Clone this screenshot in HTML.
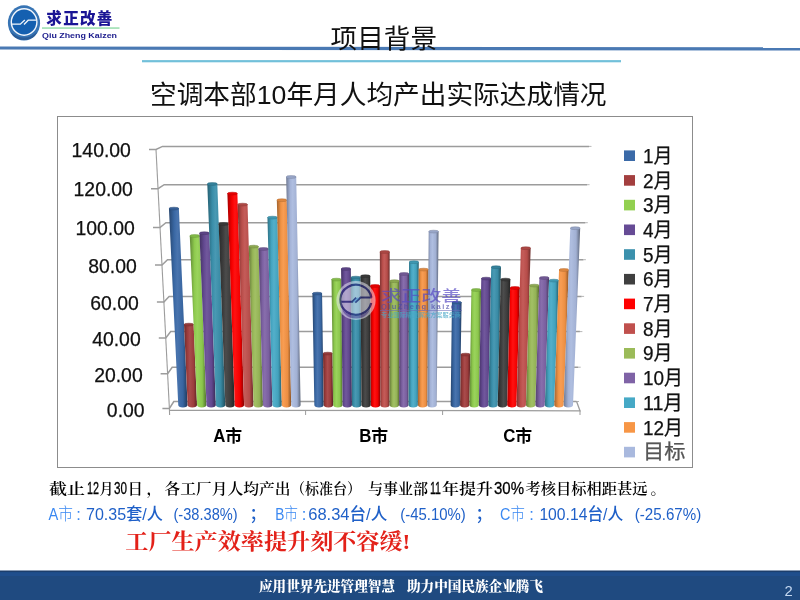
<!DOCTYPE html>
<html lang="zh-CN"><head><meta charset="utf-8"><title>项目背景</title>
<style>
html,body{margin:0;padding:0;background:#fff;}
body{width:800px;height:600px;position:relative;overflow:hidden;}
</style></head><body>
<svg width="800" height="600" viewBox="0 0 800 600" style="position:absolute;left:0;top:0">
<defs>
<linearGradient id="g0" x1="0" x2="1" y1="0" y2="0"><stop offset="0" stop-color="#27466f"/><stop offset="0.28" stop-color="#3967a3"/><stop offset="0.45" stop-color="#4974ae"/><stop offset="0.75" stop-color="#3865a0"/><stop offset="1" stop-color="#203a5c"/></linearGradient>
<linearGradient id="g1" x1="0" x2="1" y1="0" y2="0"><stop offset="0" stop-color="#6c2a2a"/><stop offset="0.28" stop-color="#9e3d3d"/><stop offset="0.45" stop-color="#a94c4c"/><stop offset="0.75" stop-color="#9b3c3c"/><stop offset="1" stop-color="#5a2323"/></linearGradient>
<linearGradient id="g2" x1="0" x2="1" y1="0" y2="0"><stop offset="0" stop-color="#608935"/><stop offset="0.28" stop-color="#8eca4e"/><stop offset="0.45" stop-color="#9ad35c"/><stop offset="0.75" stop-color="#8bc64c"/><stop offset="1" stop-color="#50722c"/></linearGradient>
<linearGradient id="g3" x1="0" x2="1" y1="0" y2="0"><stop offset="0" stop-color="#433262"/><stop offset="0.28" stop-color="#634991"/><stop offset="0.45" stop-color="#71589c"/><stop offset="0.75" stop-color="#61478e"/><stop offset="1" stop-color="#382952"/></linearGradient>
<linearGradient id="g4" x1="0" x2="1" y1="0" y2="0"><stop offset="0" stop-color="#276072"/><stop offset="0.28" stop-color="#398da8"/><stop offset="0.45" stop-color="#4999b3"/><stop offset="0.75" stop-color="#388aa4"/><stop offset="1" stop-color="#20505f"/></linearGradient>
<linearGradient id="g5" x1="0" x2="1" y1="0" y2="0"><stop offset="0" stop-color="#2a2a2a"/><stop offset="0.28" stop-color="#3d3d3d"/><stop offset="0.45" stop-color="#4c4c4c"/><stop offset="0.75" stop-color="#3c3c3c"/><stop offset="1" stop-color="#232323"/></linearGradient>
<linearGradient id="g6" x1="0" x2="1" y1="0" y2="0"><stop offset="0" stop-color="#a80000"/><stop offset="0.28" stop-color="#f70000"/><stop offset="0.45" stop-color="#ff1212"/><stop offset="0.75" stop-color="#f20000"/><stop offset="1" stop-color="#8c0000"/></linearGradient>
<linearGradient id="g7" x1="0" x2="1" y1="0" y2="0"><stop offset="0" stop-color="#7f3533"/><stop offset="0.28" stop-color="#ba4e4b"/><stop offset="0.45" stop-color="#c45c59"/><stop offset="0.75" stop-color="#b64c49"/><stop offset="1" stop-color="#6a2c2a"/></linearGradient>
<linearGradient id="g8" x1="0" x2="1" y1="0" y2="0"><stop offset="0" stop-color="#667b3b"/><stop offset="0.28" stop-color="#96b556"/><stop offset="0.45" stop-color="#a2c065"/><stop offset="0.75" stop-color="#93b255"/><stop offset="1" stop-color="#556731"/></linearGradient>
<linearGradient id="g9" x1="0" x2="1" y1="0" y2="0"><stop offset="0" stop-color="#54416e"/><stop offset="0.28" stop-color="#7b60a1"/><stop offset="0.45" stop-color="#886eac"/><stop offset="0.75" stop-color="#795e9e"/><stop offset="1" stop-color="#46365b"/></linearGradient>
<linearGradient id="g10" x1="0" x2="1" y1="0" y2="0"><stop offset="0" stop-color="#2e7083"/><stop offset="0.28" stop-color="#44a4c0"/><stop offset="0.45" stop-color="#53afca"/><stop offset="0.75" stop-color="#42a1bc"/><stop offset="1" stop-color="#265d6d"/></linearGradient>
<linearGradient id="g11" x1="0" x2="1" y1="0" y2="0"><stop offset="0" stop-color="#a3632e"/><stop offset="0.28" stop-color="#f09244"/><stop offset="0.45" stop-color="#f89d53"/><stop offset="0.75" stop-color="#eb8e42"/><stop offset="1" stop-color="#885226"/></linearGradient>
<linearGradient id="g12" x1="0" x2="1" y1="0" y2="0"><stop offset="0" stop-color="#707a93"/><stop offset="0.28" stop-color="#a4b3d7"/><stop offset="0.45" stop-color="#afbee0"/><stop offset="0.75" stop-color="#a1b0d3"/><stop offset="1" stop-color="#5d667a"/></linearGradient>
</defs>
<path d="M0 46.4 L800 47.3 L800 50.6 L0 49.6 Z" fill="#4a79b3"/>
<rect x="142" y="60.1" width="479" height="2.2" fill="#72c0da"/>
<g id="logo">
<ellipse cx="24" cy="22.9" rx="16.1" ry="17.6" fill="#3774b4"/>
<path d="M10.8 32 Q24 43 37.2 32 Q35.5 36.5 31 38.6 Q24 41.6 17 38.6 Q12.5 36.5 10.8 32Z" fill="#2a5c98"/>
<ellipse cx="24.1" cy="22" rx="12.8" ry="13.2" fill="#1560b0" stroke="#f2f6fc" stroke-width="1.4"/>
<path d="M11.5 24.2 H20.3 L24.8 20" fill="none" stroke="#f2f6fc" stroke-width="1.3"/>
<path d="M24 24.5 L28.2 20.2 H36.5" fill="none" stroke="#f2f6fc" stroke-width="1.3"/>
</g>
<text x="46.3" y="24.4" font-family="Liberation Sans,Noto Sans CJK SC,sans-serif" font-weight="900" font-size="15.5" fill="#1b1595" textLength="66" lengthAdjust="spacing">求正改善</text>
<rect x="42" y="27.4" width="77.5" height="1.3" fill="#86d8a0"/>
<text x="42" y="37.6" font-family="Liberation Sans,sans-serif" font-weight="bold" font-size="8" fill="#1b1b8c" textLength="75" lengthAdjust="spacingAndGlyphs">Qiu Zheng Kaizen</text>
<text x="330.6" y="48.2" font-family="Liberation Sans,Noto Sans CJK SC,sans-serif" font-size="26" fill="#111" textLength="106.5" lengthAdjust="spacingAndGlyphs">项目背景</text>
<text x="150" y="104.4" font-family="Liberation Sans,Noto Sans CJK SC,sans-serif" font-size="26.5" fill="#111" textLength="456.5" lengthAdjust="spacingAndGlyphs">空调本部10年月人均产出实际达成情况</text>
<rect x="57.5" y="116.5" width="635" height="351" fill="#fff" stroke="#8c8c8c" stroke-width="1"/>
<path d="M162.4 408.5 L169.4 408.5 L173.8 401.5 L576.5 401.5" fill="none" stroke="#9c9c9c" stroke-width="1.5"/>
<path d="M576.5 401.5 h2.5" stroke="#888" stroke-width="1" opacity="0.6"/>
<text x="144.6" y="416.8" text-anchor="end" font-family="Liberation Sans,sans-serif" font-size="19.4" fill="#111" stroke="#111" stroke-width="0.25">0.00</text>
<path d="M160.6 373.75 L167.6 373.75 L172.2 367.2 L578.2 367.2" fill="none" stroke="#9c9c9c" stroke-width="1.5"/>
<path d="M578.2 367.2 h2.5" stroke="#888" stroke-width="1" opacity="0.6"/>
<text x="142.7" y="382.0" text-anchor="end" font-family="Liberation Sans,sans-serif" font-size="19.4" fill="#111" stroke="#111" stroke-width="0.25">20.00</text>
<path d="M158.8 338 L165.8 338 L170.7 331.6 L579.9 331.6" fill="none" stroke="#9c9c9c" stroke-width="1.5"/>
<path d="M579.9 331.6 h2.5" stroke="#888" stroke-width="1" opacity="0.6"/>
<text x="140.7" y="346.1" text-anchor="end" font-family="Liberation Sans,sans-serif" font-size="19.4" fill="#111" stroke="#111" stroke-width="0.25">40.00</text>
<path d="M156.9 302 L163.9 302 L169.1 296.4 L581.6 296.4" fill="none" stroke="#9c9c9c" stroke-width="1.5"/>
<path d="M581.6 296.4 h2.5" stroke="#888" stroke-width="1" opacity="0.6"/>
<text x="138.8" y="310.0" text-anchor="end" font-family="Liberation Sans,sans-serif" font-size="19.4" fill="#111" stroke="#111" stroke-width="0.25">60.00</text>
<path d="M155.0 265 L162.0 265 L167.5 259.7 L583.4 259.7" fill="none" stroke="#9c9c9c" stroke-width="1.5"/>
<path d="M583.4 259.7 h2.5" stroke="#888" stroke-width="1" opacity="0.6"/>
<text x="136.8" y="272.9" text-anchor="end" font-family="Liberation Sans,sans-serif" font-size="19.4" fill="#111" stroke="#111" stroke-width="0.25">80.00</text>
<path d="M153.0 227.5 L160.0 227.5 L165.9 222.7 L585.3 222.7" fill="none" stroke="#9c9c9c" stroke-width="1.5"/>
<path d="M585.3 222.7 h2.5" stroke="#888" stroke-width="1" opacity="0.6"/>
<text x="134.8" y="235.3" text-anchor="end" font-family="Liberation Sans,sans-serif" font-size="19.4" fill="#111" stroke="#111" stroke-width="0.25">100.00</text>
<path d="M151.0 188.75 L158.0 188.75 L164.2 184.7 L587.1 184.7" fill="none" stroke="#9c9c9c" stroke-width="1.5"/>
<path d="M587.1 184.7 h2.5" stroke="#888" stroke-width="1" opacity="0.6"/>
<text x="132.9" y="196.4" text-anchor="end" font-family="Liberation Sans,sans-serif" font-size="19.4" fill="#111" stroke="#111" stroke-width="0.25">120.00</text>
<path d="M149.0 149.5 L156.0 149.5 L162.5 146.4 L589.0 146.4" fill="none" stroke="#9c9c9c" stroke-width="1.5"/>
<path d="M589.0 146.4 h2.5" stroke="#888" stroke-width="1" opacity="0.6"/>
<text x="130.9" y="157.1" text-anchor="end" font-family="Liberation Sans,sans-serif" font-size="19.4" fill="#111" stroke="#111" stroke-width="0.25">140.00</text>
<path d="M156 149.5 L169.4 408.5" stroke="#9c9c9c" stroke-width="1.1"/>
<path d="M169.4 410.3 L580 410.8 L576.5 401.25" fill="none" stroke="#9c9c9c" stroke-width="1.3"/>
<path d="M169.4 408.5 L169.6 415" stroke="#9c9c9c" stroke-width="1.1"/>
<path d="M305.6 410.5 v4.5" stroke="#9c9c9c" stroke-width="1"/>
<path d="M442.6 410.5 v4.5" stroke="#9c9c9c" stroke-width="1"/>
<path d="M580 410.5 v4.5" stroke="#9c9c9c" stroke-width="1"/>
<path d="M168.94 208.6 L178.88 208.6 L187.55 405.0 A4.65 2.4 0 0 1 178.25 405.0 Z" fill="url(#g0)"/>
<ellipse cx="173.91" cy="208.6" rx="4.97" ry="1.4" fill="#355f97" stroke="#2a4c79" stroke-width="0.5"/>
<path d="M184.03 324.6 L193.59 324.6 L196.97 405.0 A4.65 2.4 0 0 1 187.67 405.0 Z" fill="url(#g1)"/>
<ellipse cx="188.81" cy="324.6" rx="4.78" ry="1.4" fill="#933939" stroke="#752d2d" stroke-width="0.5"/>
<path d="M189.78 236.0 L199.63 236.0 L206.39 405.0 A4.65 2.4 0 0 1 197.09 405.0 Z" fill="url(#g2)"/>
<ellipse cx="194.71" cy="236.0" rx="4.93" ry="1.4" fill="#83bb48" stroke="#69963a" stroke-width="0.5"/>
<path d="M199.44 233.2 L209.30 233.2 L215.81 405.0 A4.65 2.4 0 0 1 206.51 405.0 Z" fill="url(#g3)"/>
<ellipse cx="204.37" cy="233.2" rx="4.93" ry="1.4" fill="#5c4486" stroke="#49366b" stroke-width="0.5"/>
<path d="M207.29 184.0 L217.31 184.0 L225.23 405.0 A4.65 2.4 0 0 1 215.93 405.0 Z" fill="url(#g4)"/>
<ellipse cx="212.30" cy="184.0" rx="5.01" ry="1.4" fill="#35829c" stroke="#2a687d" stroke-width="0.5"/>
<path d="M218.65 224.0 L228.54 224.0 L234.65 405.0 A4.65 2.4 0 0 1 225.35 405.0 Z" fill="url(#g5)"/>
<ellipse cx="223.59" cy="224.0" rx="4.95" ry="1.4" fill="#393939" stroke="#2d2d2d" stroke-width="0.5"/>
<path d="M227.38 193.6 L237.37 193.6 L244.07 405.0 A4.65 2.4 0 0 1 234.77 405.0 Z" fill="url(#g6)"/>
<ellipse cx="232.37" cy="193.6" rx="5.00" ry="1.4" fill="#e60000" stroke="#b80000" stroke-width="0.5"/>
<path d="M237.60 204.6 L247.55 204.6 L253.49 405.0 A4.65 2.4 0 0 1 244.19 405.0 Z" fill="url(#g7)"/>
<ellipse cx="242.58" cy="204.6" rx="4.98" ry="1.4" fill="#ad4845" stroke="#8a3a37" stroke-width="0.5"/>
<path d="M248.73 246.6 L258.55 246.6 L262.91 405.0 A4.65 2.4 0 0 1 253.61 405.0 Z" fill="url(#g8)"/>
<ellipse cx="253.64" cy="246.6" rx="4.91" ry="1.4" fill="#8ca850" stroke="#708740" stroke-width="0.5"/>
<path d="M258.55 249.0 L268.36 249.0 L272.33 405.0 A4.65 2.4 0 0 1 263.03 405.0 Z" fill="url(#g9)"/>
<ellipse cx="263.45" cy="249.0" rx="4.91" ry="1.4" fill="#725995" stroke="#5b4778" stroke-width="0.5"/>
<path d="M267.45 217.6 L277.36 217.6 L281.75 405.0 A4.65 2.4 0 0 1 272.45 405.0 Z" fill="url(#g10)"/>
<ellipse cx="272.41" cy="217.6" rx="4.96" ry="1.4" fill="#3f98b2" stroke="#327a8f" stroke-width="0.5"/>
<path d="M276.83 200.2 L286.80 200.2 L291.17 405.0 A4.65 2.4 0 0 1 281.87 405.0 Z" fill="url(#g11)"/>
<ellipse cx="281.82" cy="200.2" rx="4.99" ry="1.4" fill="#de873f" stroke="#b26c32" stroke-width="0.5"/>
<path d="M286.15 177.0 L296.20 177.0 L300.59 405.0 A4.65 2.4 0 0 1 291.29 405.0 Z" fill="url(#g12)"/>
<ellipse cx="291.18" cy="177.0" rx="5.02" ry="1.4" fill="#98a6c8" stroke="#7a85a0" stroke-width="0.5"/>
<path d="M312.41 293.6 L322.07 293.6 L323.65 405.0 A4.65 2.4 0 0 1 314.35 405.0 Z" fill="url(#g0)"/>
<ellipse cx="317.24" cy="293.6" rx="4.83" ry="1.4" fill="#355f97" stroke="#2a4c79" stroke-width="0.5"/>
<path d="M322.98 353.6 L332.45 353.6 L333.07 405.0 A4.65 2.4 0 0 1 323.77 405.0 Z" fill="url(#g1)"/>
<ellipse cx="327.71" cy="353.6" rx="4.73" ry="1.4" fill="#933939" stroke="#752d2d" stroke-width="0.5"/>
<path d="M331.52 279.6 L341.23 279.6 L342.49 405.0 A4.65 2.4 0 0 1 333.19 405.0 Z" fill="url(#g2)"/>
<ellipse cx="336.38" cy="279.6" rx="4.86" ry="1.4" fill="#83bb48" stroke="#69963a" stroke-width="0.5"/>
<path d="M341.08 269.0 L350.83 269.0 L351.91 405.0 A4.65 2.4 0 0 1 342.61 405.0 Z" fill="url(#g3)"/>
<ellipse cx="345.95" cy="269.0" rx="4.87" ry="1.4" fill="#5c4486" stroke="#49366b" stroke-width="0.5"/>
<path d="M350.86 277.6 L360.58 277.6 L361.33 405.0 A4.65 2.4 0 0 1 352.03 405.0 Z" fill="url(#g4)"/>
<ellipse cx="355.72" cy="277.6" rx="4.86" ry="1.4" fill="#35829c" stroke="#2a687d" stroke-width="0.5"/>
<path d="M360.54 276.2 L370.26 276.2 L370.75 405.0 A4.65 2.4 0 0 1 361.45 405.0 Z" fill="url(#g5)"/>
<ellipse cx="365.40" cy="276.2" rx="4.86" ry="1.4" fill="#393939" stroke="#2d2d2d" stroke-width="0.5"/>
<path d="M370.27 286.0 L379.96 286.0 L380.17 405.0 A4.65 2.4 0 0 1 370.87 405.0 Z" fill="url(#g6)"/>
<ellipse cx="375.12" cy="286.0" rx="4.84" ry="1.4" fill="#e60000" stroke="#b80000" stroke-width="0.5"/>
<path d="M379.84 252.0 L389.64 252.0 L389.59 405.0 A4.65 2.4 0 0 1 380.29 405.0 Z" fill="url(#g7)"/>
<ellipse cx="384.74" cy="252.0" rx="4.90" ry="1.4" fill="#ad4845" stroke="#8a3a37" stroke-width="0.5"/>
<path d="M389.60 281.2 L399.31 281.2 L399.01 405.0 A4.65 2.4 0 0 1 389.71 405.0 Z" fill="url(#g8)"/>
<ellipse cx="394.45" cy="281.2" rx="4.85" ry="1.4" fill="#8ca850" stroke="#708740" stroke-width="0.5"/>
<path d="M399.29 274.0 L409.02 274.0 L408.43 405.0 A4.65 2.4 0 0 1 399.13 405.0 Z" fill="url(#g9)"/>
<ellipse cx="404.15" cy="274.0" rx="4.86" ry="1.4" fill="#725995" stroke="#5b4778" stroke-width="0.5"/>
<path d="M409.02 262.2 L418.78 262.2 L417.85 405.0 A4.65 2.4 0 0 1 408.55 405.0 Z" fill="url(#g10)"/>
<ellipse cx="413.90" cy="262.2" rx="4.88" ry="1.4" fill="#3f98b2" stroke="#327a8f" stroke-width="0.5"/>
<path d="M418.69 269.6 L428.44 269.6 L427.27 405.0 A4.65 2.4 0 0 1 417.97 405.0 Z" fill="url(#g11)"/>
<ellipse cx="423.56" cy="269.6" rx="4.87" ry="1.4" fill="#de873f" stroke="#b26c32" stroke-width="0.5"/>
<path d="M428.68 231.6 L438.54 231.6 L436.69 405.0 A4.65 2.4 0 0 1 427.39 405.0 Z" fill="url(#g12)"/>
<ellipse cx="433.61" cy="231.6" rx="4.93" ry="1.4" fill="#98a6c8" stroke="#7a85a0" stroke-width="0.5"/>
<path d="M451.93 302.6 L461.57 302.6 L459.95 405.0 A4.65 2.4 0 0 1 450.65 405.0 Z" fill="url(#g0)"/>
<ellipse cx="456.75" cy="302.6" rx="4.82" ry="1.4" fill="#355f97" stroke="#2a4c79" stroke-width="0.5"/>
<path d="M460.81 354.6 L470.27 354.6 L469.37 405.0 A4.65 2.4 0 0 1 460.07 405.0 Z" fill="url(#g1)"/>
<ellipse cx="465.54" cy="354.6" rx="4.73" ry="1.4" fill="#933939" stroke="#752d2d" stroke-width="0.5"/>
<path d="M471.41 290.0 L481.08 290.0 L478.79 405.0 A4.65 2.4 0 0 1 469.49 405.0 Z" fill="url(#g2)"/>
<ellipse cx="476.25" cy="290.0" rx="4.84" ry="1.4" fill="#83bb48" stroke="#69963a" stroke-width="0.5"/>
<path d="M481.28 278.6 L490.99 278.6 L488.21 405.0 A4.65 2.4 0 0 1 478.91 405.0 Z" fill="url(#g3)"/>
<ellipse cx="486.14" cy="278.6" rx="4.86" ry="1.4" fill="#5c4486" stroke="#49366b" stroke-width="0.5"/>
<path d="M491.20 267.2 L500.95 267.2 L497.63 405.0 A4.65 2.4 0 0 1 488.33 405.0 Z" fill="url(#g4)"/>
<ellipse cx="496.07" cy="267.2" rx="4.88" ry="1.4" fill="#35829c" stroke="#2a687d" stroke-width="0.5"/>
<path d="M500.62 279.6 L510.33 279.6 L507.05 405.0 A4.65 2.4 0 0 1 497.75 405.0 Z" fill="url(#g5)"/>
<ellipse cx="505.48" cy="279.6" rx="4.86" ry="1.4" fill="#393939" stroke="#2d2d2d" stroke-width="0.5"/>
<path d="M510.09 288.0 L519.77 288.0 L516.47 405.0 A4.65 2.4 0 0 1 507.17 405.0 Z" fill="url(#g6)"/>
<ellipse cx="514.93" cy="288.0" rx="4.84" ry="1.4" fill="#e60000" stroke="#b80000" stroke-width="0.5"/>
<path d="M520.83 248.2 L530.64 248.2 L525.89 405.0 A4.65 2.4 0 0 1 516.59 405.0 Z" fill="url(#g7)"/>
<ellipse cx="525.74" cy="248.2" rx="4.91" ry="1.4" fill="#ad4845" stroke="#8a3a37" stroke-width="0.5"/>
<path d="M529.49 285.6 L539.18 285.6 L535.31 405.0 A4.65 2.4 0 0 1 526.01 405.0 Z" fill="url(#g8)"/>
<ellipse cx="534.33" cy="285.6" rx="4.85" ry="1.4" fill="#8ca850" stroke="#708740" stroke-width="0.5"/>
<path d="M539.39 278.0 L549.11 278.0 L544.73 405.0 A4.65 2.4 0 0 1 535.43 405.0 Z" fill="url(#g9)"/>
<ellipse cx="544.25" cy="278.0" rx="4.86" ry="1.4" fill="#725995" stroke="#5b4778" stroke-width="0.5"/>
<path d="M548.99 280.6 L558.69 280.6 L554.15 405.0 A4.65 2.4 0 0 1 544.85 405.0 Z" fill="url(#g10)"/>
<ellipse cx="553.84" cy="280.6" rx="4.85" ry="1.4" fill="#3f98b2" stroke="#327a8f" stroke-width="0.5"/>
<path d="M559.04 270.0 L568.78 270.0 L563.57 405.0 A4.65 2.4 0 0 1 554.27 405.0 Z" fill="url(#g11)"/>
<ellipse cx="563.91" cy="270.0" rx="4.87" ry="1.4" fill="#de873f" stroke="#b26c32" stroke-width="0.5"/>
<path d="M570.30 228.2 L580.18 228.2 L572.99 405.0 A4.65 2.4 0 0 1 563.69 405.0 Z" fill="url(#g12)"/>
<ellipse cx="575.24" cy="228.2" rx="4.94" ry="1.4" fill="#98a6c8" stroke="#7a85a0" stroke-width="0.5"/>
<text x="213.2" y="441.8" font-family="Liberation Sans,Noto Sans CJK SC,sans-serif" font-weight="bold" font-size="17.5" fill="#000" textLength="29" lengthAdjust="spacingAndGlyphs">A市</text>
<text x="359.2" y="441.8" font-family="Liberation Sans,Noto Sans CJK SC,sans-serif" font-weight="bold" font-size="17.5" fill="#000" textLength="29" lengthAdjust="spacingAndGlyphs">B市</text>
<text x="503.2" y="441.8" font-family="Liberation Sans,Noto Sans CJK SC,sans-serif" font-weight="bold" font-size="17.5" fill="#000" textLength="29" lengthAdjust="spacingAndGlyphs">C市</text>
<rect x="624" y="150.4" width="11" height="10.6" fill="#3b6aa8"/>
<text x="643" y="162.8" font-family="Liberation Sans,Noto Sans CJK SC,sans-serif" font-size="20" fill="#111" stroke="#111" stroke-width="0.25" textLength="29.5" lengthAdjust="spacingAndGlyphs">1月</text>
<rect x="624" y="175.1" width="11" height="10.6" fill="#a33f3f"/>
<text x="643" y="187.5" font-family="Liberation Sans,Noto Sans CJK SC,sans-serif" font-size="20" fill="#111" stroke="#111" stroke-width="0.25" textLength="29.5" lengthAdjust="spacingAndGlyphs">2月</text>
<rect x="624" y="199.8" width="11" height="10.6" fill="#92d050"/>
<text x="643" y="212.2" font-family="Liberation Sans,Noto Sans CJK SC,sans-serif" font-size="20" fill="#111" stroke="#111" stroke-width="0.25" textLength="29.5" lengthAdjust="spacingAndGlyphs">3月</text>
<rect x="624" y="224.5" width="11" height="10.6" fill="#664b95"/>
<text x="643" y="236.9" font-family="Liberation Sans,Noto Sans CJK SC,sans-serif" font-size="20" fill="#111" stroke="#111" stroke-width="0.25" textLength="29.5" lengthAdjust="spacingAndGlyphs">4月</text>
<rect x="624" y="249.2" width="11" height="10.6" fill="#3b91ad"/>
<text x="643" y="261.6" font-family="Liberation Sans,Noto Sans CJK SC,sans-serif" font-size="20" fill="#111" stroke="#111" stroke-width="0.25" textLength="29.5" lengthAdjust="spacingAndGlyphs">5月</text>
<rect x="624" y="273.9" width="11" height="10.6" fill="#3f3f3f"/>
<text x="643" y="286.3" font-family="Liberation Sans,Noto Sans CJK SC,sans-serif" font-size="20" fill="#111" stroke="#111" stroke-width="0.25" textLength="29.5" lengthAdjust="spacingAndGlyphs">6月</text>
<rect x="624" y="298.6" width="11" height="10.6" fill="#ff0000"/>
<text x="643" y="311.0" font-family="Liberation Sans,Noto Sans CJK SC,sans-serif" font-size="20" fill="#111" stroke="#111" stroke-width="0.25" textLength="29.5" lengthAdjust="spacingAndGlyphs">7月</text>
<rect x="624" y="323.3" width="11" height="10.6" fill="#c0504d"/>
<text x="643" y="335.7" font-family="Liberation Sans,Noto Sans CJK SC,sans-serif" font-size="20" fill="#111" stroke="#111" stroke-width="0.25" textLength="29.5" lengthAdjust="spacingAndGlyphs">8月</text>
<rect x="624" y="348.0" width="11" height="10.6" fill="#9bbb59"/>
<text x="643" y="360.4" font-family="Liberation Sans,Noto Sans CJK SC,sans-serif" font-size="20" fill="#111" stroke="#111" stroke-width="0.25" textLength="29.5" lengthAdjust="spacingAndGlyphs">9月</text>
<rect x="624" y="372.7" width="11" height="10.6" fill="#7f63a6"/>
<text x="643" y="385.1" font-family="Liberation Sans,Noto Sans CJK SC,sans-serif" font-size="20" fill="#111" stroke="#111" stroke-width="0.25" textLength="40" lengthAdjust="spacingAndGlyphs">10月</text>
<rect x="624" y="397.4" width="11" height="10.6" fill="#46a9c6"/>
<text x="643" y="409.8" font-family="Liberation Sans,Noto Sans CJK SC,sans-serif" font-size="20" fill="#111" stroke="#111" stroke-width="0.25" textLength="40" lengthAdjust="spacingAndGlyphs">11月</text>
<rect x="624" y="422.1" width="11" height="10.6" fill="#f79646"/>
<text x="643" y="434.5" font-family="Liberation Sans,Noto Sans CJK SC,sans-serif" font-size="20" fill="#111" stroke="#111" stroke-width="0.25" textLength="40" lengthAdjust="spacingAndGlyphs">12月</text>
<rect x="624" y="446.8" width="11" height="10.6" fill="#a9b9de"/>
<text x="643" y="459.2" font-family="Liberation Sans,Noto Sans CJK SC,sans-serif" font-size="20" fill="#555" stroke="#555" stroke-width="0.25" textLength="42.5" lengthAdjust="spacingAndGlyphs">目标</text>
<g opacity="0.68">
<circle cx="356" cy="300.5" r="19.6" fill="#ececf8" fill-opacity="0.78"/>
<path d="M342.5 310 Q356 321.5 369.5 310 Q368 315 362 317.6 Q356 319.6 350 317.6 Q344 315 342.5 310Z" fill="#5a4a9c" fill-opacity="0.75"/>
<path d="M371.4 297.6 A15.6 15 0 1 0 371.2 303" fill="none" stroke="#2a2a7c" stroke-width="2.2"/>
<path d="M340.5 301.8 H352.3 L356.3 297.8" fill="none" stroke="#2a2a7c" stroke-width="2"/>
<path d="M355.2 302.6 L360.6 297.6 H371.6" fill="none" stroke="#2a2a7c" stroke-width="2"/>
<path d="M353.6 302.2 L358.2 297.8" fill="none" stroke="#7ab0e8" stroke-width="1.2"/>
<text x="381" y="300.8" font-family="Liberation Sans,Noto Sans CJK SC,sans-serif" font-weight="500" font-size="15" fill="#5548c4" textLength="80.5" lengthAdjust="spacingAndGlyphs">求正改善</text>
<text x="381" y="308.6" font-family="Liberation Sans,sans-serif" font-weight="bold" font-size="7.5" fill="#4a4aa8" textLength="80" lengthAdjust="spacing">QiuZheng kaizen</text>
<rect x="380" y="310.2" width="82" height="0.8" fill="#6a6ab8"/>
<text x="381" y="317.3" font-family="Liberation Sans,Noto Sans CJK SC,sans-serif" font-weight="bold" font-size="6" fill="#48a8c8" textLength="80" lengthAdjust="spacingAndGlyphs">专业国际精益解决方案服务商</text>
</g>
<g font-family="Liberation Sans,Noto Serif CJK SC,serif" font-weight="600" font-size="15.3" fill="#000">
<text x="49" y="494" textLength="36" lengthAdjust="spacingAndGlyphs">截止</text>
<text x="87" y="494" font-size="17" font-weight="normal" stroke="#000" stroke-width="0.3" textLength="12" lengthAdjust="spacingAndGlyphs">12</text>
<text x="99.5" y="494" textLength="14" lengthAdjust="spacingAndGlyphs">月</text>
<text x="114" y="494" font-size="17" font-weight="normal" stroke="#000" stroke-width="0.3" textLength="13" lengthAdjust="spacingAndGlyphs">30</text>
<text x="127.5" y="494" textLength="15.5" lengthAdjust="spacingAndGlyphs">日</text>
<text x="146.5" y="494" textLength="15.5" lengthAdjust="spacingAndGlyphs">，</text>
<text x="164.5" y="494" textLength="126" lengthAdjust="spacingAndGlyphs">各工厂月人均产出</text>
<text x="291" y="494" textLength="70" lengthAdjust="spacingAndGlyphs">（标准台）</text>
<text x="368" y="494" textLength="60" lengthAdjust="spacingAndGlyphs">与事业部</text>
<text x="430" y="494" font-size="17" font-weight="normal" stroke="#000" stroke-width="0.3" textLength="11" lengthAdjust="spacingAndGlyphs">11</text>
<text x="442" y="494" textLength="51" lengthAdjust="spacingAndGlyphs">年提升</text>
<text x="494" y="494" font-size="17" font-weight="normal" stroke="#000" stroke-width="0.3" textLength="30" lengthAdjust="spacingAndGlyphs">30%</text>
<text x="525.5" y="494" textLength="122" lengthAdjust="spacingAndGlyphs">考核目标相距甚远</text>
<text x="650.5" y="494" textLength="15.3" lengthAdjust="spacingAndGlyphs">。</text>
</g>
<g font-family="Liberation Sans,Noto Sans CJK SC,sans-serif" font-size="16.5" font-weight="300" fill="#3a88f2">
<text x="48.5" y="520" textLength="24.5" lengthAdjust="spacingAndGlyphs">A市</text>
<text x="275.2" y="520" textLength="22.8" lengthAdjust="spacingAndGlyphs">B市</text>
<text x="500" y="520" textLength="24.8" lengthAdjust="spacingAndGlyphs">C市</text>
<text x="76.2" y="520">:</text>
<text x="301.8" y="520">:</text>
<text x="529.2" y="520">:</text>
</g>
<g font-family="Liberation Sans,Noto Sans CJK SC,sans-serif" font-size="16.5" font-weight="500" fill="#1f60c8">
<text x="86" y="520" textLength="76.8" lengthAdjust="spacingAndGlyphs">70.35套/人</text>
<text x="173.5" y="520" textLength="64.2" lengthAdjust="spacingAndGlyphs">(-38.38%)</text>
<text x="308.2" y="520" textLength="79" lengthAdjust="spacingAndGlyphs">68.34台/人</text>
<text x="400.3" y="520" textLength="65.5" lengthAdjust="spacingAndGlyphs">(-45.10%)</text>
<text x="539.4" y="520" textLength="83.8" lengthAdjust="spacingAndGlyphs">100.14台/人</text>
<text x="634.8" y="520" textLength="66.4" lengthAdjust="spacingAndGlyphs">(-25.67%)</text>
<text x="249.5" y="520">；</text>
<text x="475.5" y="520">；</text>
</g>
<text x="125.3" y="549.2" font-family="Liberation Serif,Noto Serif CJK SC,serif" font-weight="bold" font-size="21.5" fill="#e32119" textLength="285" lengthAdjust="spacingAndGlyphs">工厂生产效率提升刻不容缓!</text>
<rect x="0" y="570.7" width="800" height="30" fill="#1f4a80"/>
<rect x="0" y="572" width="800" height="4" fill="#1f4e8c"/>
<rect x="0" y="570.7" width="800" height="1.4" fill="#1c3e6c"/>
<text x="259" y="591" font-family="Liberation Serif,Noto Serif CJK SC,serif" font-weight="900" font-size="13.5" fill="#fff" textLength="136" lengthAdjust="spacingAndGlyphs">应用世界先进管理智慧</text>
<text x="407" y="591" font-family="Liberation Serif,Noto Serif CJK SC,serif" font-weight="900" font-size="13.5" fill="#fff" textLength="136" lengthAdjust="spacingAndGlyphs">助力中国民族企业腾飞</text>
<text x="784.4" y="596" font-family="Liberation Sans,sans-serif" font-size="14.8" fill="#c4d8f0">2</text>
</svg>
</body></html>
